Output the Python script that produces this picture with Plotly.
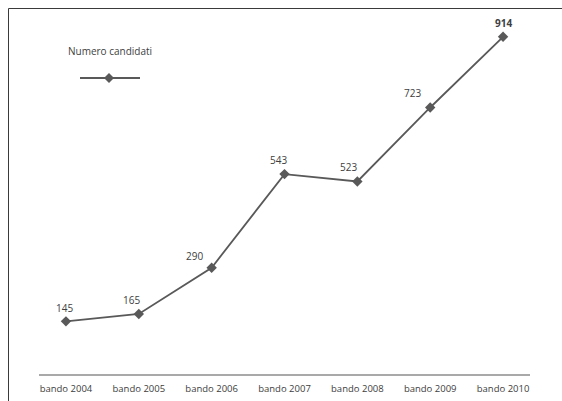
import plotly.graph_objects as go

categories = ["bando 2004", "bando 2005", "bando 2006", "bando 2007", "bando 2008", "bando 2009", "bando 2010"]
candidati = [145, 165, 290, 543, 523, 723, 914]
series_name = "Numero candidati"

# style: label offsets in px (x, y)
label_dx = [-1, -7, -17, -6, -9, -18, 0]
label_dy = [13, 14, 12, 14, 14, 14, 14]

W, H = 562, 401
L, R, T, B = 39, 32, 5, 26
pw, ph = W - L - R, H - T - B

def px(x):
    return (x - L) / pw

def py(y):
    return (H - B - y) / ph

LINE = "#595959"
FONT = "Open Sans, Noto Sans, sans-serif"

fig = go.Figure()
fig.add_trace(go.Scatter(
    x=categories, y=candidati, mode="lines+markers",
    line=dict(color=LINE, width=1.8),
    marker=dict(symbol="diamond", size=8, color=LINE),
    showlegend=False, hoverinfo="skip", cliponaxis=False,
))

annotations = []
for i, (c, v) in enumerate(zip(categories, candidati)):
    txt = f"<b>{v}</b>" if i == len(candidati) - 1 else str(v)
    annotations.append(dict(x=c, y=v, xref="x", yref="y", text=txt, showarrow=False,
                            xanchor="center", yanchor="middle",
                            xshift=label_dx[i], yshift=label_dy[i],
                            font=dict(family=FONT, size=10, color="#404040")))

# legend (drawn manually: title above symbol)
annotations.append(dict(x=px(110), y=py(51), xref="paper", yref="paper", text=series_name,
                        xanchor="center", yanchor="middle",
                        showarrow=False, font=dict(family=FONT, size=10, color="#404040")))

shapes = [
    # outer frame (top and left edges visible)
    dict(type="line", xref="paper", yref="paper", x0=px(8.5), x1=px(570), y0=py(8.5), y1=py(8.5),
         line=dict(color="#3a3a3a", width=1), layer="below"),
    dict(type="line", xref="paper", yref="paper", x0=px(8.5), x1=px(8.5), y0=py(8.5), y1=py(410),
         line=dict(color="#3a3a3a", width=1), layer="below"),
    # category axis line
    dict(type="line", xref="paper", yref="paper", x0=0, x1=1, y0=0, y1=0,
         line=dict(color="#8c8c8c", width=1.5)),
    # legend line
    dict(type="line", xref="paper", yref="paper", x0=px(80), x1=px(140), y0=py(78), y1=py(78),
         line=dict(color=LINE, width=1.8)),
    # legend diamond
    dict(type="path", xref="paper", yref="paper",
         path=f"M {px(109)},{py(73)} L {px(114)},{py(78)} L {px(109)},{py(83)} L {px(104)},{py(78)} Z",
         fillcolor=LINE, line=dict(color=LINE, width=0)),
]

fig.update_layout(
    width=W, height=H,
    margin=dict(l=L, r=R, t=T, b=B, pad=0),
    paper_bgcolor="white", plot_bgcolor="white",
    xaxis=dict(type="category", range=[-0.37, 6.37], showgrid=False, zeroline=False, showline=False,
               ticks="", tickfont=dict(family=FONT, size=9.5, color="#404040"), ticklabelstandoff=6,
               fixedrange=True),
    yaxis=dict(range=[0, 1000], visible=False, showgrid=False, zeroline=False, fixedrange=True),
    annotations=annotations, shapes=shapes, showlegend=False,
)

fig.write_html("out.html")
